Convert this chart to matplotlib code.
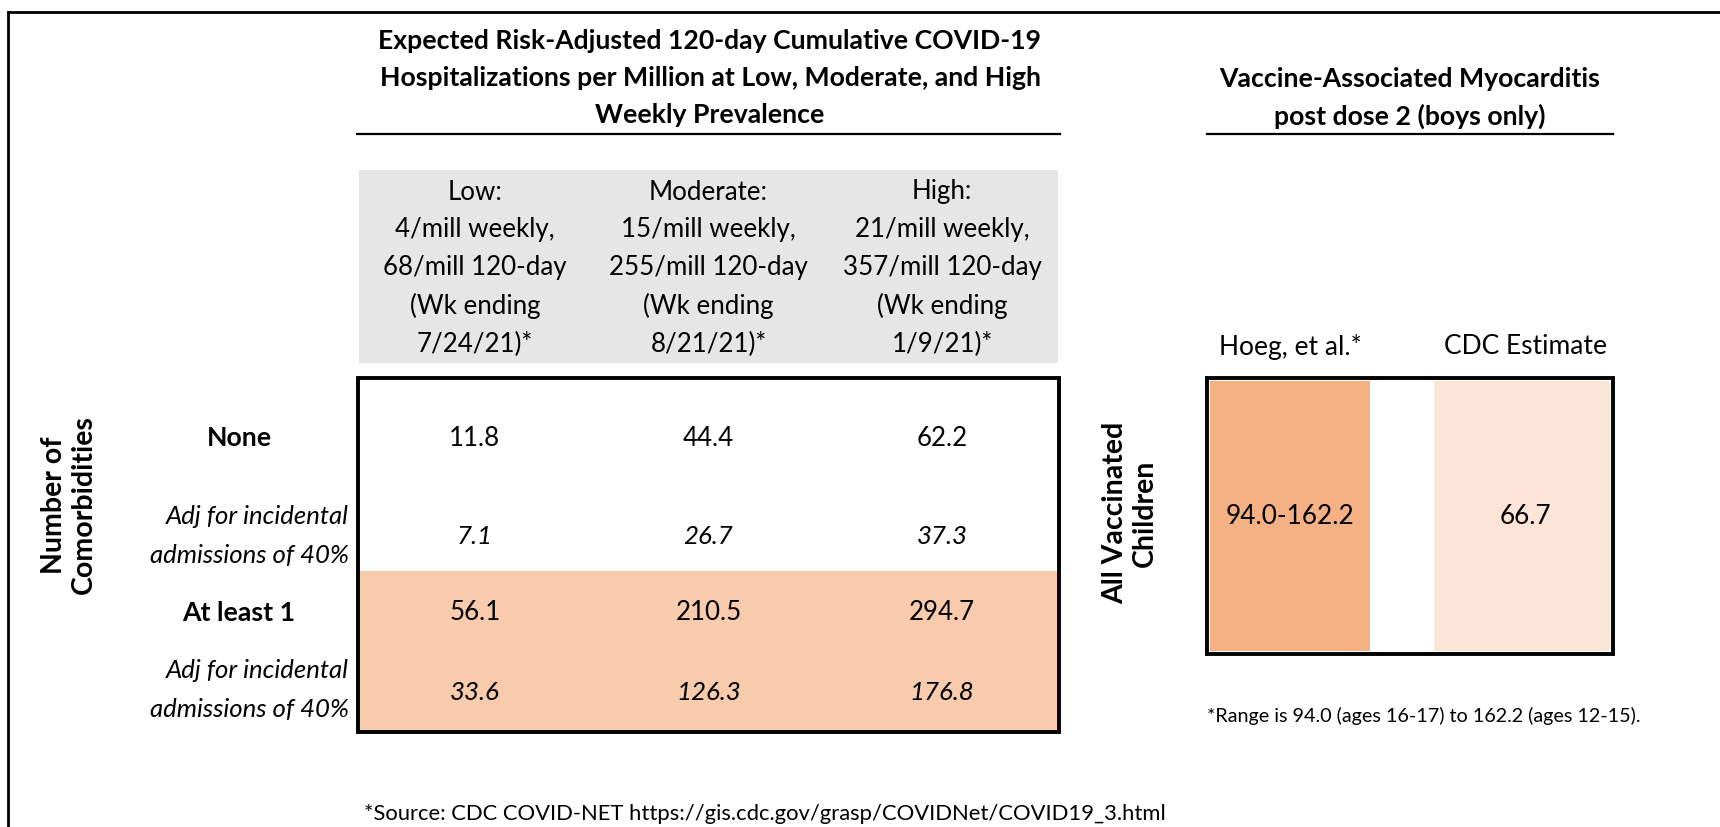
import matplotlib
matplotlib.use("Agg")
import matplotlib.pyplot as plt
from matplotlib.patches import Rectangle

plt.rcParams["font.family"] = ["Lato", "DejaVu Sans"]

# ------------------------------------------------------------
# data
# ------------------------------------------------------------
prevalence_levels = ["Low", "Moderate", "High"]
weekly_per_mill = [4, 15, 21]
cumulative_120_day = [68, 255, 357]
week_ending = ["7/24/21", "8/21/21", "1/9/21"]

row_labels = ["None", "Adj for incidental\nadmissions of 40%",
              "At least 1", "Adj for incidental\nadmissions of 40%"]
hosp_none = [11.8, 44.4, 62.2]
hosp_none_adj = [7.1, 26.7, 37.3]
hosp_at_least_1 = [56.1, 210.5, 294.7]
hosp_at_least_1_adj = [33.6, 126.3, 176.8]

myo_sources = ["Hoeg, et al.*", "CDC Estimate"]
myo_values = ["94.0-162.2", "66.7"]

# colours (Excel orange tints)
GRAY = "#E7E6E6"
ORANGE_60 = "#F8CBAD"
ORANGE_40 = "#F4B183"
ORANGE_80 = "#FCE4D6"

W, H = 1720, 827
fig = plt.figure(figsize=(W / 100, H / 100), dpi=100)
ax = fig.add_axes([0, 0, 1, 1])
ax.set_xlim(0, W)
ax.set_ylim(H, 0)
ax.axis("off")

FS = 18.6      # body text
FS_I = 18.5    # italic text
FS_B = 19.2    # bold headers
FS_R = 20.5    # rotated side labels

# frame (top + left only)
ax.plot([8, W], [12, 12], color="black", lw=2)
ax.plot([8, 8], [12, H], color="black", lw=2)

# ------------------------------------------------------------
# titles
# ------------------------------------------------------------
title1 = ["Expected Risk-Adjusted 120-day Cumulative COVID-19",
          "Hospitalizations per Million at Low, Moderate, and High",
          "Weekly Prevalence"]
for i, line in enumerate(title1):
    ax.text(710, 41 + i * 37, line, ha="center", va="center",
            fontsize=FS_B, fontweight="bold")
ax.plot([357, 1060], [134, 134], color="black", lw=1.6)

title2 = ["Vaccine-Associated Myocarditis", "post dose 2 (boys only)"]
for i, line in enumerate(title2):
    ax.text(1410, 79 + i * 37, line, ha="center", va="center",
            fontsize=FS_B, fontweight="bold")
ax.plot([1207, 1613], [134, 134], color="black", lw=1.6)

# ------------------------------------------------------------
# prevalence header (gray)
# ------------------------------------------------------------
tbl_x0, tbl_x1 = 358, 1059
col_w = (tbl_x1 - tbl_x0) / 3
col_cx = [tbl_x0 + col_w * (i + 0.5) for i in range(3)]

ax.add_patch(Rectangle((359, 170), 699, 193, facecolor=GRAY, edgecolor="none"))
for i, lvl in enumerate(prevalence_levels):
    lines = [f"{lvl}:",
             f"{weekly_per_mill[i]}/mill weekly,",
             f"{cumulative_120_day[i]}/mill 120-day",
             "(Wk ending",
             f"{week_ending[i]})*"]
    for j, line in enumerate(lines):
        ax.text(col_cx[i], 192 + j * 38, line, ha="center", va="center", fontsize=FS)

# ------------------------------------------------------------
# main table
# ------------------------------------------------------------
ax.add_patch(Rectangle((tbl_x0, 571), tbl_x1 - tbl_x0, 732 - 571,
                       facecolor=ORANGE_60, edgecolor="none"))
ax.add_patch(Rectangle((tbl_x0, 378), tbl_x1 - tbl_x0, 732 - 378,
                       facecolor="none", edgecolor="black", lw=2.8))

rows = [hosp_none, hosp_none_adj, hosp_at_least_1, hosp_at_least_1_adj]
row_y = [438, 536, 613, 692]
row_italic = [False, True, False, True]
for r, vals in enumerate(rows):
    style = "italic" if row_italic[r] else "normal"
    for i, v in enumerate(vals):
        ax.text(col_cx[i], row_y[r], f"{v:.1f}", ha="center", va="center",
                fontsize=FS, style=style)

# row labels
ax.text(239, 438, row_labels[0], ha="center", va="center", fontsize=FS_B, fontweight="bold")
ax.text(239, 613, row_labels[2], ha="center", va="center", fontsize=FS_B, fontweight="bold")
for y0, lab in ((516, row_labels[1]), (671, row_labels[3])):
    for j, line in enumerate(lab.split("\n")):
        ax.text(349, y0 + j * 39, line, ha="right", va="center", fontsize=FS_I, style="italic")

ax.text(69, 505, "Number of\nComorbidities", rotation=90, ha="center", va="center",
        multialignment="center", fontsize=FS_R, fontweight="bold", linespacing=1.2)

# ------------------------------------------------------------
# myocarditis block
# ------------------------------------------------------------
ax.add_patch(Rectangle((1210, 381), 160, 270, facecolor=ORANGE_40, edgecolor="none"))
ax.add_patch(Rectangle((1434, 381), 176, 270, facecolor=ORANGE_80, edgecolor="none"))
ax.add_patch(Rectangle((1207, 378), 406, 276, facecolor="none", edgecolor="black", lw=2.8))

myo_cx = [1290, 1525]
for cx, src, val in zip(myo_cx, myo_sources, myo_values):
    ax.text(cx, 347, src, ha="center", va="center", fontsize=FS + 0.4)
    ax.text(cx, 516, val, ha="center", va="center", fontsize=FS + 0.3)

ax.text(1130, 513, "All Vaccinated\nChildren", rotation=90, ha="center", va="center",
        multialignment="center", fontsize=FS_R, fontweight="bold", linespacing=1.2)

ax.text(1207, 716, "*Range is 94.0 (ages 16-17) to 162.2 (ages 12-15).",
        ha="left", va="center", fontsize=14.2)
ax.text(364, 814, "*Source: CDC COVID-NET https://gis.cdc.gov/grasp/COVIDNet/COVID19_3.html",
        ha="left", va="center", fontsize=15.8)

fig.savefig("out.png", dpi=100)
